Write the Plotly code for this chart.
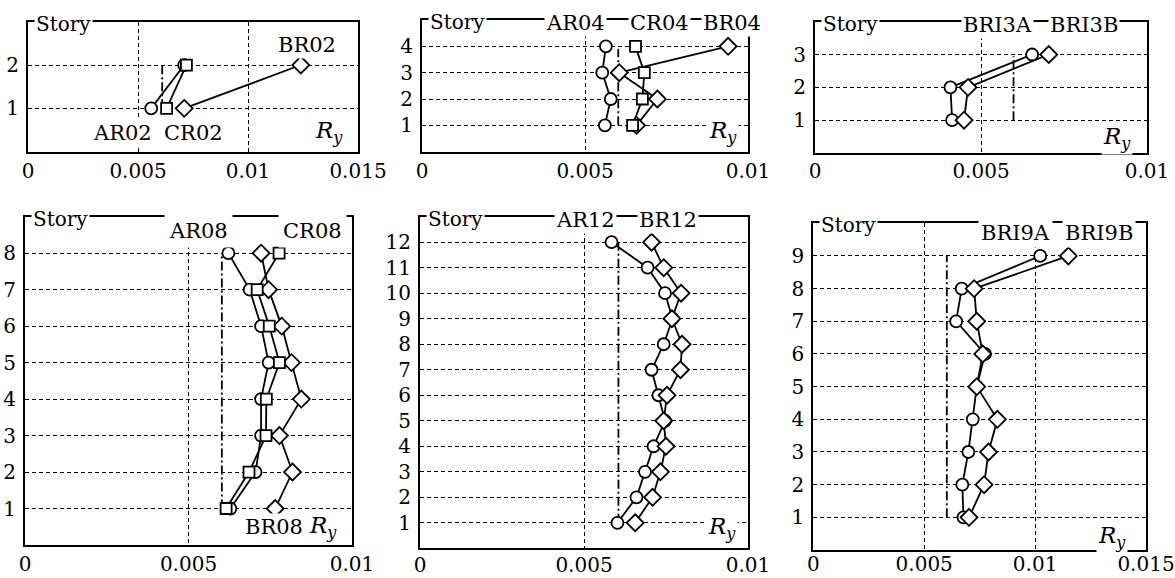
import plotly.graph_objects as go

W, H = 1175, 578
FONT = "DejaVu Serif"

# ---------------- data ----------------
# Panel 1 (2-story)
st_02 = [1, 2]
AR02 = [0.0056, 0.0071]
CR02 = [0.0063, 0.0072]
BR02 = [0.0071, 0.0124]
lim_02 = [0.0061, 0.0061]
lim_st_02 = [1, 2]

# Panel 2 (4-story)
st_04 = [1, 2, 3, 4]
AR04 = [0.00561, 0.00579, 0.00553, 0.00564]
CR04 = [0.00646, 0.00676, 0.00682, 0.00655]
BR04 = [0.00658, 0.00722, 0.00605, 0.00939]
lim_04 = [0.00602, 0.00602]
lim_st_04 = [1, 3.9]

# Panel 3 (3-story)
st_3 = [1, 2, 3]
BRI3A = [0.00413, 0.00408, 0.00654]
BRI3B = [0.00449, 0.00461, 0.00704]
lim_3 = [0.00598, 0.00598]
lim_st_3 = [1, 2.95]

# Panel 4 (8-story)
st_08 = [1, 2, 3, 4, 5, 6, 7, 8]
AR08 = [0.00628, 0.00705, 0.00722, 0.00722, 0.00745, 0.00722, 0.00687, 0.00622]
CR08 = [0.00615, 0.00685, 0.00737, 0.00738, 0.00778, 0.00747, 0.00710, 0.00777]
BR08 = [0.00765, 0.00818, 0.00778, 0.00845, 0.00815, 0.00785, 0.00745, 0.00722]
lim_08 = [0.00602, 0.00602]
lim_st_08 = [1, 8]

# Panel 5 (12-story)
st_12 = list(range(1, 13))
AR12 = [0.00602, 0.00660, 0.00686, 0.00712, 0.00747, 0.00727,
        0.00706, 0.00743, 0.00770, 0.00747, 0.00694, 0.00584]
BR12 = [0.00656, 0.00709, 0.00733, 0.00750, 0.00743, 0.00753,
        0.00794, 0.00799, 0.00768, 0.00796, 0.00743, 0.00706]
lim_12 = [0.00605, 0.00605]
lim_st_12 = [1, 12]

# Panel 6 (9-story)
st_9 = list(range(1, 10))
BRI9A = [0.00677, 0.00672, 0.00699, 0.00719, 0.00737, 0.00774, 0.00644, 0.00669, 0.01023]
BRI9B = [0.00702, 0.00770, 0.00790, 0.00830, 0.00737, 0.00764, 0.00737, 0.00725, 0.01150]
lim_9 = [0.00602, 0.00602]
lim_st_9 = [1, 9]

x_ticks_01 = [0, 0.005, 0.01]
x_ticks_015 = [0, 0.005, 0.01, 0.015]
x_ticktext_01 = ["0", "0.005", "0.01"]
x_ticktext_015 = ["0", "0.005", "0.01", "0.015"]

# ---------------- layout of panels (pixel boxes) ----------------
panels = [
    dict(box=(28, 358, 21.7, 151.7), xmax=0.015, ymax=3, nst=2, xoff=0,
         series=[(AR02, st_02, "circle"), (BR02, st_02, "diamond"), (CR02, st_02, "square")],
         lim=(lim_02, lim_st_02)),
    dict(box=(422, 748, 20, 151.7), xmax=0.01, ymax=5, nst=4, xoff=0,
         series=[(AR04, st_04, "circle"), (BR04, st_04, "diamond"), (CR04, st_04, "square")],
         lim=(lim_04, lim_st_04)),
    dict(box=(815, 1147, 21.7, 153), xmax=0.01, ymax=4, nst=3, xoff=-1,
         series=[(BRI3A, st_3, "circle"), (BRI3B, st_3, "diamond")],
         lim=(lim_3, lim_st_3)),
    dict(box=(25, 352, 216.7, 545), xmax=0.01, ymax=9, nst=8, xoff=0,
         series=[(AR08, st_08, "circle"), (BR08, st_08, "diamond"), (CR08, st_08, "square")],
         lim=(lim_08, lim_st_08)),
    dict(box=(420, 748, 216.7, 548.3), xmax=0.01, ymax=13, nst=12, xoff=-2,
         series=[(AR12, st_12, "circle"), (BR12, st_12, "diamond")],
         lim=(lim_12, lim_st_12)),
    dict(box=(813.3, 1146, 223.3, 550), xmax=0.015, ymax=10, nst=9, xoff=-5,
         series=[(BRI9A, st_9, "circle"), (BRI9B, st_9, "diamond")],
         lim=(lim_9, lim_st_9)),
]

# label annotations: (panel index, text, x, y, on top border?, borderpad)
labels = [
    (0, "BR02", 0.0127, 2.47, False, 1),
    (0, "AR02", 0.0043, 0.44, False, 1),
    (0, "CR02", 0.0075, 0.44, False, 1),
    (1, "AR04", 0.0047, None, True, 1),
    (1, "CR04", 0.0073, None, True, 1),
    (1, "BR04", 0.0095, None, True, 1),
    (2, "BRI3A", 0.0055, None, True, 1),
    (2, "BRI3B", 0.0081, None, True, 1),
    (3, "AR08", 0.0053, 8.6, False, 4),
    (3, "CR08", 0.0088, 8.6, False, 4),
    (3, "BR08", 0.0076, 0.49, False, 1),
    (4, "AR12", 0.00505, None, True, 1),
    (4, "BR12", 0.00755, None, True, 1),
    (5, "BRI9A", 0.0091, 9.69, False, 2),
    (5, "BRI9B", 0.0129, 9.69, False, 2),
]
ry_pos = [(0.0137, 0.45), (0.00923, 0.76), (0.0091, 0.45), (0.0091, 0.49), (0.0092, 0.79), (0.01346, 0.40)]

fig = go.Figure()
annotations = []
marker_sizes = {"circle": 12, "square": 11, "diamond": 13}
tick_font = dict(family=FONT, size=20, color="black")
label_font = dict(family=FONT, size=21, color="black")

for i, p in enumerate(panels):
    n = "" if i == 0 else str(i + 1)
    xa, ya = "x" + n, "y" + n
    l, r, t, b = p["box"]
    wide = p["xmax"] > 0.011
    xaxis = dict(
        domain=[l / W, r / W], range=[0, p["xmax"]], anchor=ya,
        tickvals=x_ticks_015 if wide else x_ticks_01,
        ticktext=x_ticktext_015 if wide else x_ticktext_01,
        showgrid=True, gridcolor="black", gridwidth=1.2, griddash="4px,3px",
        zeroline=False, showline=True, linecolor="black", linewidth=2, mirror=True,
        ticks="", tickfont=tick_font, automargin=False, ticklabelstandoff=p["xoff"],
        fixedrange=True,
    )
    yaxis = dict(
        domain=[1 - b / H, 1 - t / H], range=[0, p["ymax"]], anchor=xa,
        tickvals=list(range(1, p["nst"] + 1)),
        showgrid=True, gridcolor="black", gridwidth=1.2, griddash="4px,3px",
        zeroline=False, showline=True, linecolor="black", linewidth=2, mirror=True,
        ticks="", tickfont=tick_font, automargin=False, ticklabelstandoff=3,
        fixedrange=True,
    )
    fig.update_layout(**{("xaxis" + n): xaxis, ("yaxis" + n): yaxis})

    # limit line (dash-dot)
    lx, ly = p["lim"]
    fig.add_trace(go.Scatter(x=lx, y=ly, xaxis=xa, yaxis=ya, mode="lines",
                             line=dict(color="black", width=1.8, dash="9px,3px,2px,3px"),
                             showlegend=False, hoverinfo="skip"))
    # lines
    for xs, ys, sym in p["series"]:
        fig.add_trace(go.Scatter(x=xs, y=ys, xaxis=xa, yaxis=ya, mode="lines",
                                 line=dict(color="black", width=1.8),
                                 showlegend=False, hoverinfo="skip"))
    # markers
    for xs, ys, sym in p["series"]:
        fig.add_trace(go.Scatter(x=xs, y=ys, xaxis=xa, yaxis=ya, mode="markers",
                                 marker=dict(symbol=sym, size=marker_sizes[sym], color="white",
                                             line=dict(color="black", width=1.8)),
                                 showlegend=False))

    # "Story" label on top border
    annotations.append(dict(text="Story", xref=xa + " domain", yref=ya + " domain",
                            x=0, y=1, xanchor="left", yanchor="middle", xshift=6, yshift=-2,
                            showarrow=False, bgcolor="white", borderpad=1,
                            font=dict(family=FONT, size=20, color="black")))
    # R_y label
    rx, ry = ry_pos[i]
    annotations.append(dict(text="<i>R<sub>y</sub></i>", xref=xa, yref=ya, x=rx, y=ry,
                            xanchor="center", yanchor="middle", showarrow=False,
                            bgcolor="white", borderpad=1,
                            font=dict(family=FONT, size=23, color="black")))

for (pi, txt, x, y, on_top, pad) in labels:
    n = "" if pi == 0 else str(pi + 1)
    xa, ya = "x" + n, "y" + n
    if on_top:
        annotations.append(dict(text=txt, xref=xa, yref=ya + " domain", x=x, y=1,
                                xanchor="center", yanchor="middle", yshift=-3, showarrow=False,
                                bgcolor="white", borderpad=pad, font=label_font))
    else:
        annotations.append(dict(text=txt, xref=xa, yref=ya, x=x, y=y,
                                xanchor="center", yanchor="middle", showarrow=False,
                                bgcolor="white", borderpad=pad, font=label_font))

fig.update_layout(
    width=W, height=H, margin=dict(l=0, r=0, t=0, b=0, autoexpand=False),
    paper_bgcolor="white", plot_bgcolor="white",
    annotations=annotations, showlegend=False,
)

fig.write_html("out.html", config={"displayModeBar": False},
               post_script="document.body.style.margin='0';document.body.style.overflow='hidden';")
